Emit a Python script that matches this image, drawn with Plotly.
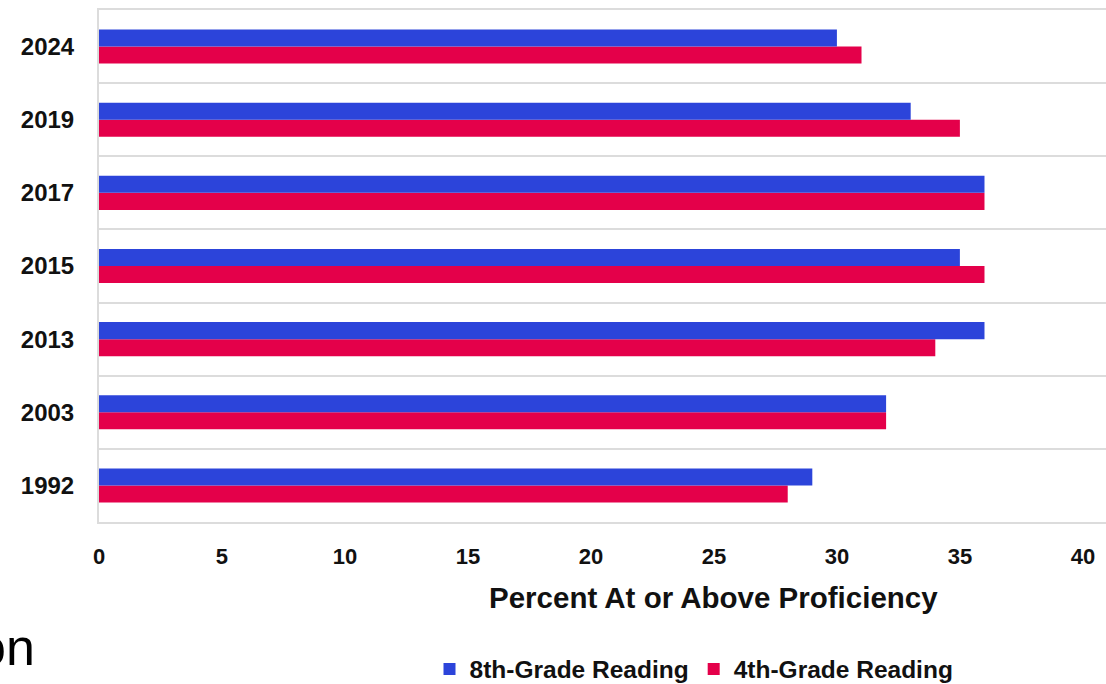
import plotly.graph_objects as go

years = ["1992", "2003", "2013", "2015", "2017", "2019", "2024"]
grade8 = [29, 32, 36, 35, 36, 33, 30]
grade4 = [28, 32, 34, 36, 36, 35, 31]
x_ticks = [0, 5, 10, 15, 20, 25, 30, 35, 40]

BLUE = "#2C44DA"
RED = "#E4004A"
GRID = "#DCDCDC"
FONT = "Liberation Sans"

W, H = 1106, 684
ML, MR, MT, MB = 99, 0, 10, 162
PW, PH = W - ML - MR, H - MT - MB

def px_to_paper_x(px):
    return (px - ML) / PW

def px_to_paper_y(py):
    return (H - MB - py) / PH

fig = go.Figure()
fig.add_trace(go.Bar(y=years, x=grade4, orientation="h", name="4th-Grade Reading",
                     marker=dict(color=RED, line=dict(width=0))))
fig.add_trace(go.Bar(y=years, x=grade8, orientation="h", name="8th-Grade Reading",
                     marker=dict(color=BLUE, line=dict(width=0))))

fig.update_layout(
    width=W, height=H,
    margin=dict(l=ML, r=MR, t=MT, b=MB, autoexpand=False),
    paper_bgcolor="white", plot_bgcolor="white",
    barmode="group", bargap=0.534, bargroupgap=0,
    showlegend=True,
    legend=dict(orientation="h", traceorder="reversed",
                x=px_to_paper_x(694), xanchor="center",
                y=px_to_paper_y(669), yanchor="middle",
                font=dict(family=FONT, size=24.5, color="#111111", weight="bold"),
                itemwidth=30, tracegroupgap=0),
    font=dict(family=FONT, color="#111111"),
)

fig.update_xaxes(
    range=[0, 40.94], tickvals=x_ticks, showgrid=False, zeroline=False,
    showline=True, mirror=True, linecolor=GRID, linewidth=2,
    ticks="", ticklabelstandoff=14,
    tickfont=dict(family=FONT, size=22, color="#111111", weight="bold"),
)
fig.update_yaxes(
    type="category", categoryorder="array", categoryarray=years,
    tickson="boundaries", showgrid=True, gridcolor=GRID, gridwidth=2,
    showline=True, linecolor=GRID, linewidth=2, zeroline=False,
    ticks="", ticklabelstandoff=18,
    tickfont=dict(family=FONT, size=24, color="#111111", weight="bold"),
)

fig.add_annotation(
    text="<b>Percent At or Above Proficiency</b>", showarrow=False,
    xref="paper", yref="paper", x=px_to_paper_x(713), y=px_to_paper_y(597),
    xanchor="center", yanchor="middle",
    font=dict(family=FONT, size=29.5, color="#111111"),
)
fig.add_annotation(
    text="on", showarrow=False,
    xref="paper", yref="paper", x=px_to_paper_x(37), y=px_to_paper_y(647),
    xanchor="right", yanchor="middle",
    font=dict(family=FONT, size=52, color="#000000"),
)

fig.write_html("out.html")
